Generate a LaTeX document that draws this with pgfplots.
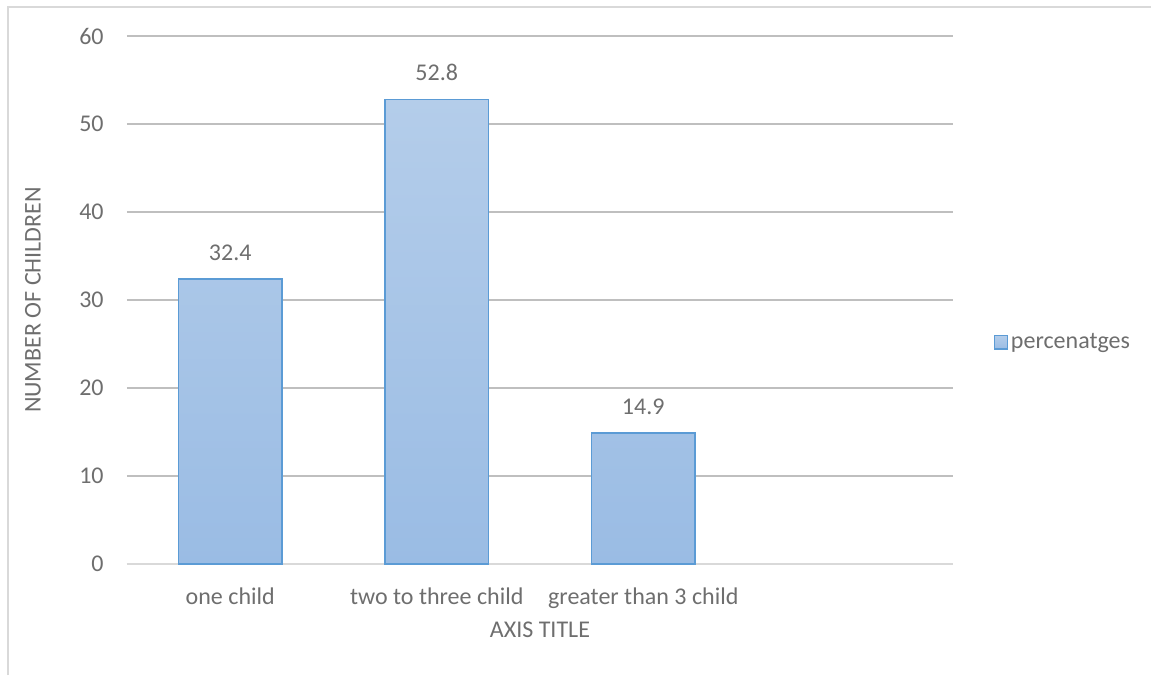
\documentclass[border=0pt]{standalone}
\usepackage{pgfplots}
\pgfplotsset{compat=1.18}
\usepackage{fontspec}
\setmainfont{Carlito}
\definecolor{txt}{HTML}{6E6E6E}
\definecolor{grid}{HTML}{D9D9D9}
\definecolor{bardraw}{HTML}{5B9BD5}
\definecolor{bartop}{HTML}{B4CDEA}
\definecolor{barbot}{HTML}{9ABCE4}
\begin{document}
\begin{tikzpicture}
\useasboundingbox (-95.25pt,-83.25pt) rectangle (768pt,423pt);
\draw[grid, line width=0.9pt] (-89.25pt,-83.25pt) -- (-89.25pt,417.75pt) -- (768pt,417.75pt);
\begin{axis}[
  at={(0pt,0pt)}, anchor=south west,
  scale only axis,
  width=619.5pt, height=396pt,
  xmin=-0.5, xmax=3.5,
  ymin=0, ymax=60,
  ytick={0,10,...,60},
  xtick={0,1,2},
  xticklabels={one child, two to three child, greater than 3 child},
  /pgf/number format/assume math mode=true,
  axis x line*=bottom,
  axis y line*=left,
  x axis line style={grid, line width=1pt, -},
  y axis line style={draw=none},
  major tick length=0pt,
  xmajorgrids=false,
  ymajorgrids=true,
  grid style={grid, line width=0.9pt},
  tick label style={font=\fontsize{18}{21}\selectfont, text=txt},
  yticklabel style={xshift=-14pt},
  xticklabel style={yshift=-14pt},
  ylabel={NUMBER OF CHILDREN},
  xlabel={AXIS TITLE},
  label style={font=\fontsize{18}{21}\selectfont, text=txt},
  ylabel style={at={(axis description cs:-0.114,0.5)}, anchor=center, rotate=0},
  xlabel style={at={(axis description cs:0.5,-0.125)}, anchor=center},
  legend style={at={(axis description cs:1.044,0.42)}, anchor=west, draw=none, fill=none,
    font=\fontsize{18}{21}\selectfont, text=txt},
  legend image code/.code={\draw[bardraw, line width=1pt, top color=bartop, bottom color=barbot] (0pt,-5pt) rectangle (10pt,5pt);},
  nodes near coords,
  nodes near coords style={font=\fontsize{18}{21}\selectfont, text=txt, yshift=10pt},
  point meta=explicit symbolic,
  clip=false,
]
\addplot[ybar, bar width=0.5, draw=bardraw, line width=1pt, top color=bartop, bottom color=barbot]
  coordinates {(0,32.4) [32.4] (1,52.8) [52.8] (2,14.9) [14.9]};
\addlegendentry{percenatges}
\end{axis}
\end{tikzpicture}
\end{document}
